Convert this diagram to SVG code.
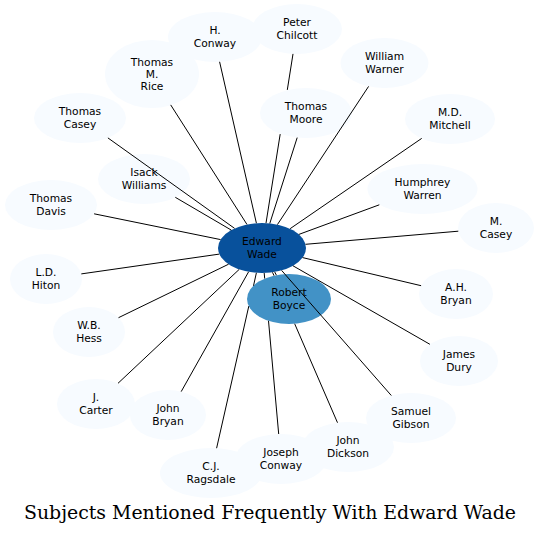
<svg xmlns="http://www.w3.org/2000/svg" width="541" height="535" viewBox="0 0 541 535">
<style>
  .bg { fill: #ffffff; }
  .leaf ellipse { fill: #f7fbff; stroke: none; }
  .main ellipse { fill: #08519c; stroke: none; }
  .mid ellipse { fill: #4292c6; stroke: none; }
  .node text { font-family: "DejaVu Sans", "Liberation Sans", sans-serif; font-size: 10.7px; fill: #000000; text-anchor: middle; }
  .edges path { stroke: #000000; stroke-width: 1; fill: none; }
  .title { font-family: "DejaVu Serif", "Liberation Serif", serif; font-size: 18.9px; fill: #000000; text-anchor: middle; }
</style>
<rect class="bg" x="0" y="0" width="541" height="535"/>

<g id="node-h-conway" class="node leaf"><ellipse cx="215" cy="37" rx="47" ry="25"/><text x="215" y="34">H.</text><text x="215" y="46.5">Conway</text></g>
<g id="node-peter-chilcott" class="node leaf"><ellipse cx="297" cy="29" rx="45" ry="25"/><text x="297" y="26">Peter</text><text x="297" y="38.5">Chilcott</text></g>
<g id="node-thomas-m-rice" class="node leaf"><ellipse cx="152" cy="74" rx="47" ry="34"/><text x="152" y="65.5">Thomas</text><text x="152" y="77.5">M.</text><text x="152" y="89.5">Rice</text></g>
<g id="node-william-warner" class="node leaf"><ellipse cx="384.5" cy="63" rx="44" ry="25"/><text x="384.5" y="60">William</text><text x="384.5" y="72.5">Warner</text></g>
<g id="node-thomas-moore" class="node leaf"><ellipse cx="306" cy="113" rx="46" ry="25"/><text x="306" y="110">Thomas</text><text x="306" y="122.5">Moore</text></g>
<g id="node-thomas-casey" class="node leaf"><ellipse cx="80" cy="118" rx="46" ry="25"/><text x="80" y="115">Thomas</text><text x="80" y="127.5">Casey</text></g>
<g id="node-md-mitchell" class="node leaf"><ellipse cx="450" cy="119" rx="45" ry="25"/><text x="450" y="116">M.D.</text><text x="450" y="128.5">Mitchell</text></g>
<g id="node-isack-williams" class="node leaf"><ellipse cx="144" cy="179" rx="46" ry="25"/><text x="144" y="176">Isack</text><text x="144" y="188.5">Williams</text></g>
<g id="node-humphrey-warren" class="node leaf"><ellipse cx="422.5" cy="189" rx="55" ry="25"/><text x="422.5" y="186">Humphrey</text><text x="422.5" y="198.5">Warren</text></g>
<g id="node-thomas-davis" class="node leaf"><ellipse cx="51" cy="205" rx="46" ry="25"/><text x="51" y="202">Thomas</text><text x="51" y="214.5">Davis</text></g>
<g id="node-m-casey" class="node leaf"><ellipse cx="496" cy="228" rx="38" ry="25"/><text x="496" y="225">M.</text><text x="496" y="237.5">Casey</text></g>
<g id="node-edward-wade" class="node main"><ellipse cx="262" cy="248" rx="44" ry="25"/><text x="262" y="245">Edward</text><text x="262" y="257.5">Wade</text></g>
<g id="node-ld-hiton" class="node leaf"><ellipse cx="46" cy="279" rx="36" ry="25"/><text x="46" y="276">L.D.</text><text x="46" y="288.5">Hiton</text></g>
<g id="node-ah-bryan" class="node leaf"><ellipse cx="456" cy="294" rx="37" ry="25"/><text x="456" y="291">A.H.</text><text x="456" y="303.5">Bryan</text></g>
<g id="node-robert-boyce" class="node mid"><ellipse cx="289" cy="299" rx="42" ry="25"/><text x="289" y="296">Robert</text><text x="289" y="308.5">Boyce</text></g>
<g id="node-wb-hess" class="node leaf"><ellipse cx="89" cy="332" rx="36" ry="25"/><text x="89" y="329">W.B.</text><text x="89" y="341.5">Hess</text></g>
<g id="node-james-dury" class="node leaf"><ellipse cx="459" cy="361" rx="39" ry="25"/><text x="459" y="358">James</text><text x="459" y="370.5">Dury</text></g>
<g id="node-j-carter" class="node leaf"><ellipse cx="96" cy="404" rx="39" ry="25"/><text x="96" y="401">J.</text><text x="96" y="413.5">Carter</text></g>
<g id="node-john-bryan" class="node leaf"><ellipse cx="168" cy="415" rx="38" ry="25"/><text x="168" y="412">John</text><text x="168" y="424.5">Bryan</text></g>
<g id="node-samuel-gibson" class="node leaf"><ellipse cx="411" cy="418" rx="45" ry="25"/><text x="411" y="415">Samuel</text><text x="411" y="427.5">Gibson</text></g>
<g id="node-john-dickson" class="node leaf"><ellipse cx="348" cy="447" rx="46" ry="25"/><text x="348" y="444">John</text><text x="348" y="456.5">Dickson</text></g>
<g id="node-joseph-conway" class="node leaf"><ellipse cx="281" cy="459" rx="46" ry="25"/><text x="281" y="456">Joseph</text><text x="281" y="468.5">Conway</text></g>
<g id="node-cj-ragsdale" class="node leaf"><ellipse cx="211" cy="473" rx="51" ry="25"/><text x="211" y="470">C.J.</text><text x="211" y="482.5">Ragsdale</text></g>

<g id="connectors" class="edges">
  <path d="M219.6,61.8 L256.4,223.2"/>
  <path d="M293,53.9 L287.3,89.9 M280.2,134.1 L266,223.1"/>
  <path d="M170.7,104.9 L247,224.5"/>
  <path d="M368.6,86.4 L277.4,224.6"/>
  <path d="M297.2,137.6 L269.8,223.4"/>
  <path d="M107.9,137.9 L234.6,228.4"/>
  <path d="M421.7,138.4 L290.1,228.7"/>
  <path d="M175.3,197.3 L231.3,230.1"/>
  <path d="M379.3,204.8 L298.9,234.4"/>
  <path d="M94.1,213.8 L220.6,239.6"/>
  <path d="M458.3,231.2 L305.5,244.3"/>
  <path d="M81.3,273.9 L219.3,254.1"/>
  <path d="M421.1,285.7 L302.6,257.6"/>
  <path d="M274.7,271.9 L276.4,275.2"/>
  <path d="M118.5,317.7 L228.6,264.2"/>
  <path d="M429.9,344.3 L293,265.8"/>
  <path d="M118,383.3 L239.2,269.4"/>
  <path d="M181.2,391.6 L248.6,271.8"/>
  <path d="M391.3,395.5 L281.6,270.4"/>
  <path d="M272.5,272.3 L274,275.7 M294.7,323.8 L337.5,422.7"/>
  <path d="M264.2,273 L264.7,278.6 M268.5,320.8 L278.7,434"/>
  <path d="M256.4,272.8 L253.5,285.8 M248.8,306.1 L216.6,448.2"/>
</g>

<text class="title" x="270" y="519">Subjects Mentioned Frequently With Edward Wade</text>
</svg>
